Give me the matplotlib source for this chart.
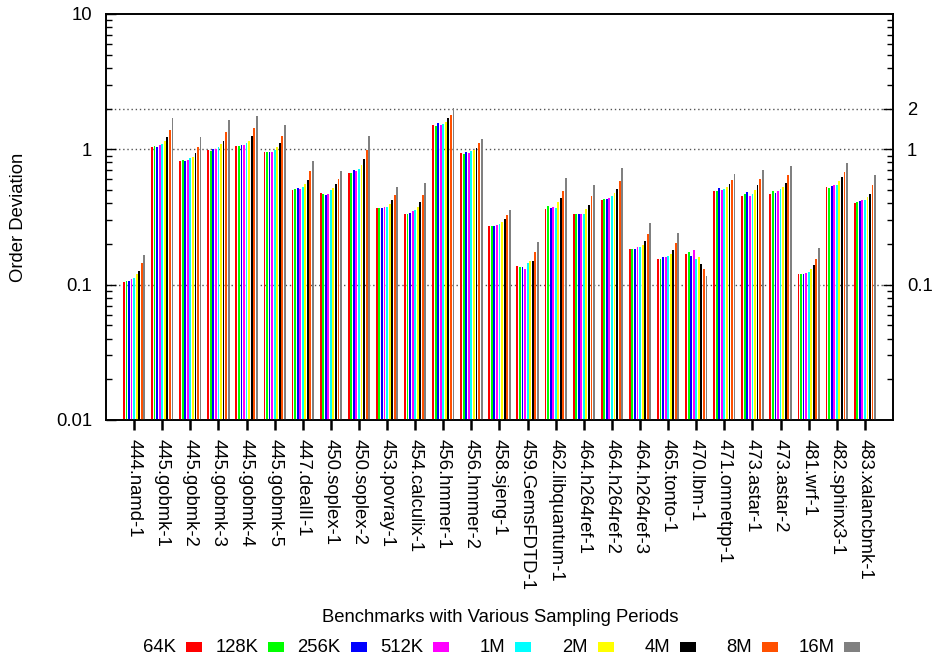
import matplotlib.pyplot as plt
import numpy as np
from matplotlib.patches import Rectangle
from matplotlib.ticker import FixedLocator, LogLocator, NullFormatter, FixedFormatter

plt.rcParams['font.family'] = ['Liberation Sans', 'DejaVu Sans']
plt.rcParams['font.size'] = 13.3

benchmarks = ['444.namd-1', '445.gobmk-1', '445.gobmk-2', '445.gobmk-3', '445.gobmk-4',
              '445.gobmk-5', '447.dealII-1', '450.soplex-1', '450.soplex-2', '453.povray-1',
              '454.calculix-1', '456.hmmer-1', '456.hmmer-2', '458.sjeng-1', '459.GemsFDTD-1',
              '462.libquantum-1', '464.h264ref-1', '464.h264ref-2', '464.h264ref-3',
              '465.tonto-1', '470.lbm-1', '471.omnetpp-1', '473.astar-1', '473.astar-2',
              '481.wrf-1', '482.sphinx3-1', '483.xalancbmk-1']

periods = ['64K', '128K', '256K', '512K', '1M', '2M', '4M', '8M', '16M']
colors = ['#ff0000', '#00ff00', '#0000ff', '#ff00ff', '#00ffff', '#ffff00', '#000000',
          '#ff5000', '#808080']

# one row per benchmark, one column per sampling period
deviation = np.array([
    [0.0955, 0.0971, 0.0971, 0.0999, 0.102, 0.109, 0.117, 0.134, 0.156],
    [1.035, 1.052, 1.035, 1.070, 1.089, 1.146, 1.227, 1.382, 1.695],
    [0.815, 0.829, 0.815, 0.829, 0.858, 0.873, 0.934, 1.035, 1.227],
    [0.983, 0.966, 1.000, 1.000, 1.035, 1.089, 1.146, 1.336, 1.638],
    [1.052, 1.052, 1.070, 1.070, 1.108, 1.146, 1.248, 1.430, 1.754],
    [0.950, 0.950, 0.950, 0.950, 0.983, 1.035, 1.108, 1.248, 1.505],
    [0.489, 0.498, 0.506, 0.498, 0.515, 0.542, 0.580, 0.676, 0.815],
    [0.465, 0.457, 0.449, 0.457, 0.489, 0.506, 0.542, 0.590, 0.676],
    [0.653, 0.653, 0.688, 0.676, 0.700, 0.762, 0.843, 0.983, 1.248],
    [0.360, 0.360, 0.360, 0.366, 0.366, 0.386, 0.413, 0.449, 0.515],
    [0.325, 0.325, 0.331, 0.343, 0.348, 0.366, 0.399, 0.449, 0.551],
    [1.505, 1.479, 1.556, 1.505, 1.530, 1.583, 1.695, 1.783, 2.010],
    [0.934, 0.918, 0.950, 0.934, 0.966, 0.983, 1.017, 1.108, 1.186],
    [0.261, 0.261, 0.261, 0.265, 0.270, 0.279, 0.294, 0.315, 0.348],
    [0.1275, 0.125, 0.125, 0.121, 0.134, 0.139, 0.139, 0.165, 0.195],
    [0.354, 0.373, 0.360, 0.366, 0.360, 0.399, 0.427, 0.481, 0.600],
    [0.320, 0.325, 0.325, 0.325, 0.325, 0.354, 0.379, 0.442, 0.533],
    [0.413, 0.420, 0.420, 0.427, 0.442, 0.465, 0.498, 0.570, 0.724],
    [0.173, 0.173, 0.173, 0.179, 0.179, 0.188, 0.202, 0.228, 0.274],
    [0.146, 0.146, 0.149, 0.149, 0.154, 0.159, 0.170, 0.192, 0.231],
    [0.159, 0.165, 0.154, 0.170, 0.146, 0.149, 0.132, 0.121, 0.106],
    [0.481, 0.481, 0.506, 0.489, 0.498, 0.515, 0.542, 0.580, 0.642],
    [0.442, 0.457, 0.473, 0.442, 0.457, 0.489, 0.533, 0.590, 0.688],
    [0.457, 0.481, 0.465, 0.481, 0.498, 0.515, 0.551, 0.632, 0.749],
    [0.1095, 0.1095, 0.1095, 0.1115, 0.115, 0.121, 0.1295, 0.146, 0.176],
    [0.515, 0.506, 0.524, 0.533, 0.533, 0.570, 0.610, 0.665, 0.788],
    [0.392, 0.399, 0.406, 0.413, 0.413, 0.434, 0.457, 0.533, 0.632],
])

W, H = 933, 662
fig = plt.figure(figsize=(W / 100, H / 100), dpi=100)
ax = fig.add_axes([106 / W, 1 - 420 / H, (893 - 106) / W, (420 - 14) / H])

n_series = len(periods)
slot = 1.0 / (n_series + 2)
x = np.arange(len(benchmarks))
for j in range(n_series):
    offs = (j - (n_series - 1) / 2) * slot
    ax.bar(x + offs, deviation[:, j], width=slot * 0.72, bottom=0.01,
           color=colors[j], linewidth=0, zorder=3)

ax.set_yscale('log')
ax.set_ylim(0.01, 10)
ax.set_xlim(-1, len(benchmarks))

# dotted reference lines at the y2 tic positions
for v in [0.1, 1, 2]:
    ax.axhline(v, color='#555555', lw=1, ls=(0, (1, 2)), zorder=1)

ax.set_xticks(x)
ax.set_xticklabels(benchmarks, rotation=270, ha='center', va='top')
ax.tick_params(axis='x', direction='out', length=7, width=1.8, pad=7)
ax.tick_params(axis='y', which='major', direction='in', length=7, width=1, pad=10)
ax.tick_params(axis='y', which='minor', direction='in', length=4, width=1)
ax.yaxis.set_major_locator(FixedLocator([0.01, 0.1, 1, 10]))
ax.yaxis.set_major_formatter(FixedFormatter(['0.01', '0.1', '1', '10']))
ax.yaxis.set_minor_locator(LogLocator(base=10, subs=np.arange(2, 10)))
ax.yaxis.set_minor_formatter(NullFormatter())

ax2 = ax.twinx()
ax2.set_yscale('log')
ax2.set_ylim(0.01, 10)
ax2.yaxis.set_major_locator(FixedLocator([0.1, 1, 2]))
ax2.yaxis.set_major_formatter(FixedFormatter(['0.1', '1', '2']))
ax2.yaxis.set_minor_locator(LogLocator(base=10, subs=np.arange(2, 10)))
ax2.yaxis.set_minor_formatter(NullFormatter())
ax2.tick_params(axis='y', which='major', direction='in', length=7, width=1, pad=10)
ax2.tick_params(axis='y', which='minor', direction='in', length=4, width=1)

for a in (ax, ax2):
    for s in a.spines.values():
        s.set_linewidth(1.2)

fig.text(18.5 / W, 1 - 217 / H, 'Order Deviation', rotation=90,
         ha='center', va='center')
fig.text(500 / W, 1 - 618 / H, 'Benchmarks with Various Sampling Periods',
         ha='center', va='center')

# key along the bottom: label then colour sample
for j, (lab, c) in enumerate(zip(periods, colors)):
    xr = 176 + j * 82.3
    yc = 647
    fig.text(xr / W, 1 - yc / H, lab, ha='right', va='center')
    fig.patches.append(Rectangle(((xr + 10) / W, 1 - (yc + 5) / H), 16 / W, 10 / H,
                                 transform=fig.transFigure, facecolor=c,
                                 edgecolor='none'))

fig.savefig('out.png', dpi=100)
